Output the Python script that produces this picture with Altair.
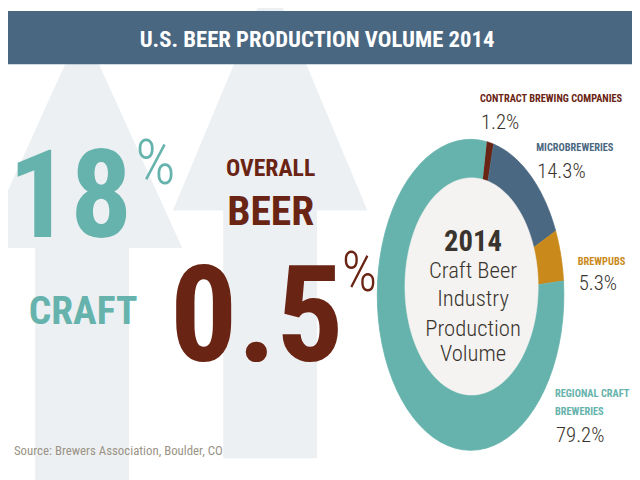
import altair as alt
import pandas as pd

# ---------------- data ----------------
title_text = "U.S. BEER PRODUCTION VOLUME 2014"
growth_labels = ["CRAFT", ["OVERALL", "BEER"]]
growth_values = [18, 0.5]
segments = ["Contract Brewing Companies", "Microbreweries", "Brewpubs", "Regional Craft Breweries"]
segment_labels = [["CONTRACT BREWING COMPANIES"], ["MICROBREWERIES"], ["BREWPUBS"], ["REGIONAL CRAFT", "BREWERIES"]]
shares = [1.2, 14.3, 5.3, 79.2]
center_lines = ["2014", "Craft Beer", "Industry", "Production", "Volume"]
source_text = "Source: Brewers Association, Boulder, CO"

# ---------------- style ----------------
W, H = 632, 472
OFF = 8
FONT = "Roboto Condensed, Roboto, Liberation Sans, sans-serif"
TEAL = "#65B3AC"
BLUE = "#4B6882"
ORANGE = "#C98A1B"
BROWN = "#6A2414"
ARROW = "#EDF0F3"
HEADER = "#4A6781"
INNER = "#F4F3F1"
DARK = "#3A342E"
SRC = "#9A9386"
seg_colors = [BROWN, BLUE, ORANGE, TEAL]

one = pd.DataFrame({"k": [0]})

xs = alt.Scale(domain=[OFF, W + OFF], nice=False, zero=False)
ys = alt.Scale(domain=[OFF, H + OFF], nice=False, zero=False, reverse=True)


def txt(text, x, y, size, color, weight="normal", align="left", baseline="alphabetic", lh=None):
    kw = dict(text=text, font=FONT, fontSize=size, fontWeight=weight, color=color,
              align=align, baseline=baseline)
    if lh:
        kw["lineHeight"] = lh
    return alt.Chart(one).mark_text(**kw).encode(x=alt.value(x - OFF), y=alt.value(y - OFF))


def arrow(cx, apex_y, half_head, head_len, half_shaft, total_len):
    s = 100.0
    p = (f"M0,0 L{half_head/s},{head_len/s} L{half_shaft/s},{head_len/s} "
         f"L{half_shaft/s},{total_len/s} L{-half_shaft/s},{total_len/s} "
         f"L{-half_shaft/s},{head_len/s} L{-half_head/s},{head_len/s} Z")
    return alt.Chart(one).mark_point(shape=p, size=40000, filled=True, fill=ARROW,
                                     opacity=1, strokeWidth=0).encode(
        x=alt.value(cx - OFF), y=alt.value(apex_y - OFF))


# arrows
arrow1 = arrow(83, 24, 101.5, 224, 47.5, 470)
arrow2 = arrow(273.5, -26, 98.5, 236, 47.5, 487)

# header band
header = alt.Chart(one).mark_rect(color=HEADER).encode(
    x=alt.value(0), x2=alt.value(W), y=alt.value(0), y2=alt.value(62 - OFF))
title = txt(title_text, 321, 44, 23, "white", "bold", "center")

# donut (elliptical) built from shares
CX, CY, RX, RY = 476.5, 295.5, 94.5, 157.5
START = 0.1745
N = 60
seg_df = pd.DataFrame({"segment": segments, "share": shares, "ord": list(range(len(segments)))})
donut = alt.Chart(seg_df).transform_window(
    cum="sum(share)", sort=[alt.SortField("ord")], frame=[None, 0]
).transform_calculate(
    a0=f"(datum.cum - datum.share) / 100 * 2 * PI + {START}",
    a1=f"datum.cum / 100 * 2 * PI + {START}",
    pts=f"sequence(0, {N + 2})",
).transform_flatten(["pts"], as_=["i"]).transform_calculate(
    t=f"datum.a0 + (datum.a1 - datum.a0) * (datum.i - 1) / {N}",
).transform_calculate(
    px=f"datum.i == 0 ? {CX} : {CX} + {RX} * sin(datum.t)",
    py=f"datum.i == 0 ? {CY} : {CY} - {RY} * cos(datum.t)",
).mark_line(strokeWidth=0.8, interpolate="linear").encode(
    x=alt.X("px:Q", scale=xs, axis=None),
    y=alt.Y("py:Q", scale=ys, axis=None),
    detail="segment:N",
    order="i:Q",
    fill=alt.Fill("segment:N", scale=alt.Scale(domain=segments, range=seg_colors), legend=None),
    stroke=alt.Stroke("segment:N", scale=alt.Scale(domain=segments, range=seg_colors), legend=None),
)

ICX, ICY, IRX, IRY = 477.5, 287, 67.5, 110
inner = alt.Chart(one).transform_calculate(
    pts="sequence(0, 121)"
).transform_flatten(["pts"], as_=["i"]).transform_calculate(
    px=f"{ICX} + {IRX} * sin(datum.i / 120 * 2 * PI)",
    py=f"{ICY} - {IRY} * cos(datum.i / 120 * 2 * PI)",
).mark_line(fill=INNER, stroke=INNER, strokeWidth=0.5).encode(
    x=alt.X("px:Q", scale=xs, axis=None),
    y=alt.Y("py:Q", scale=ys, axis=None),
    order="i:Q",
)

# big numbers
fmt = lambda v: f"{v:g}"
t18 = txt(fmt(growth_values[0]), 71, 237, 124, TEAL, "bold", "center")
p18 = txt("%", 137, 183, 64, TEAL, 300, "left")
craft = txt(growth_labels[0], 84, 325, 40, TEAL, "bold", "center")
overall = txt(growth_labels[1][0], 274, 175, 24, BROWN, "bold", "center")
beer = txt(growth_labels[1][1], 274, 225, 42, BROWN, "bold", "center")
t05 = txt(fmt(growth_values[1]), 260, 363, 135, BROWN, "bold", "center")
p05 = txt("%", 346, 292, 56, BROWN, 300, "left")
source = txt(source_text, 14, 458, 13, SRC)

# donut labels
lab_pos = [(486, 100, 128), (543, 150, 177), (585, 265, 291), (562, 399, 445)]
labels = []
for lab, sh, col, (lx, ly, vy) in zip(segment_labels, shares, seg_colors, lab_pos):
    labels.append(txt(lab if len(lab) > 1 else lab[0], lx, ly, 10.5, col, "bold", lh=18))
    labels.append(txt(f"{sh}%", lx + 1, vy, 21, DARK, 300))

# center text
center = [txt(center_lines[0], 479, 251, 29, DARK, "bold", "center")]
for line, by in zip(center_lines[1:], [278, 307, 337, 363]):
    center.append(txt(line, 479, by, 23, DARK, 300, "center"))

chart = alt.layer(
    arrow1, arrow2, header, title, donut, inner,
    t18, p18, craft, overall, beer, t05, p05, source, *labels, *center
).properties(
    width=W, height=H, background="white", padding=0,
    autosize=alt.AutoSizeParams(type="none")
).configure_view(stroke=None)

chart.save("out.html", embed_options={"renderer": "svg", "actions": False})
